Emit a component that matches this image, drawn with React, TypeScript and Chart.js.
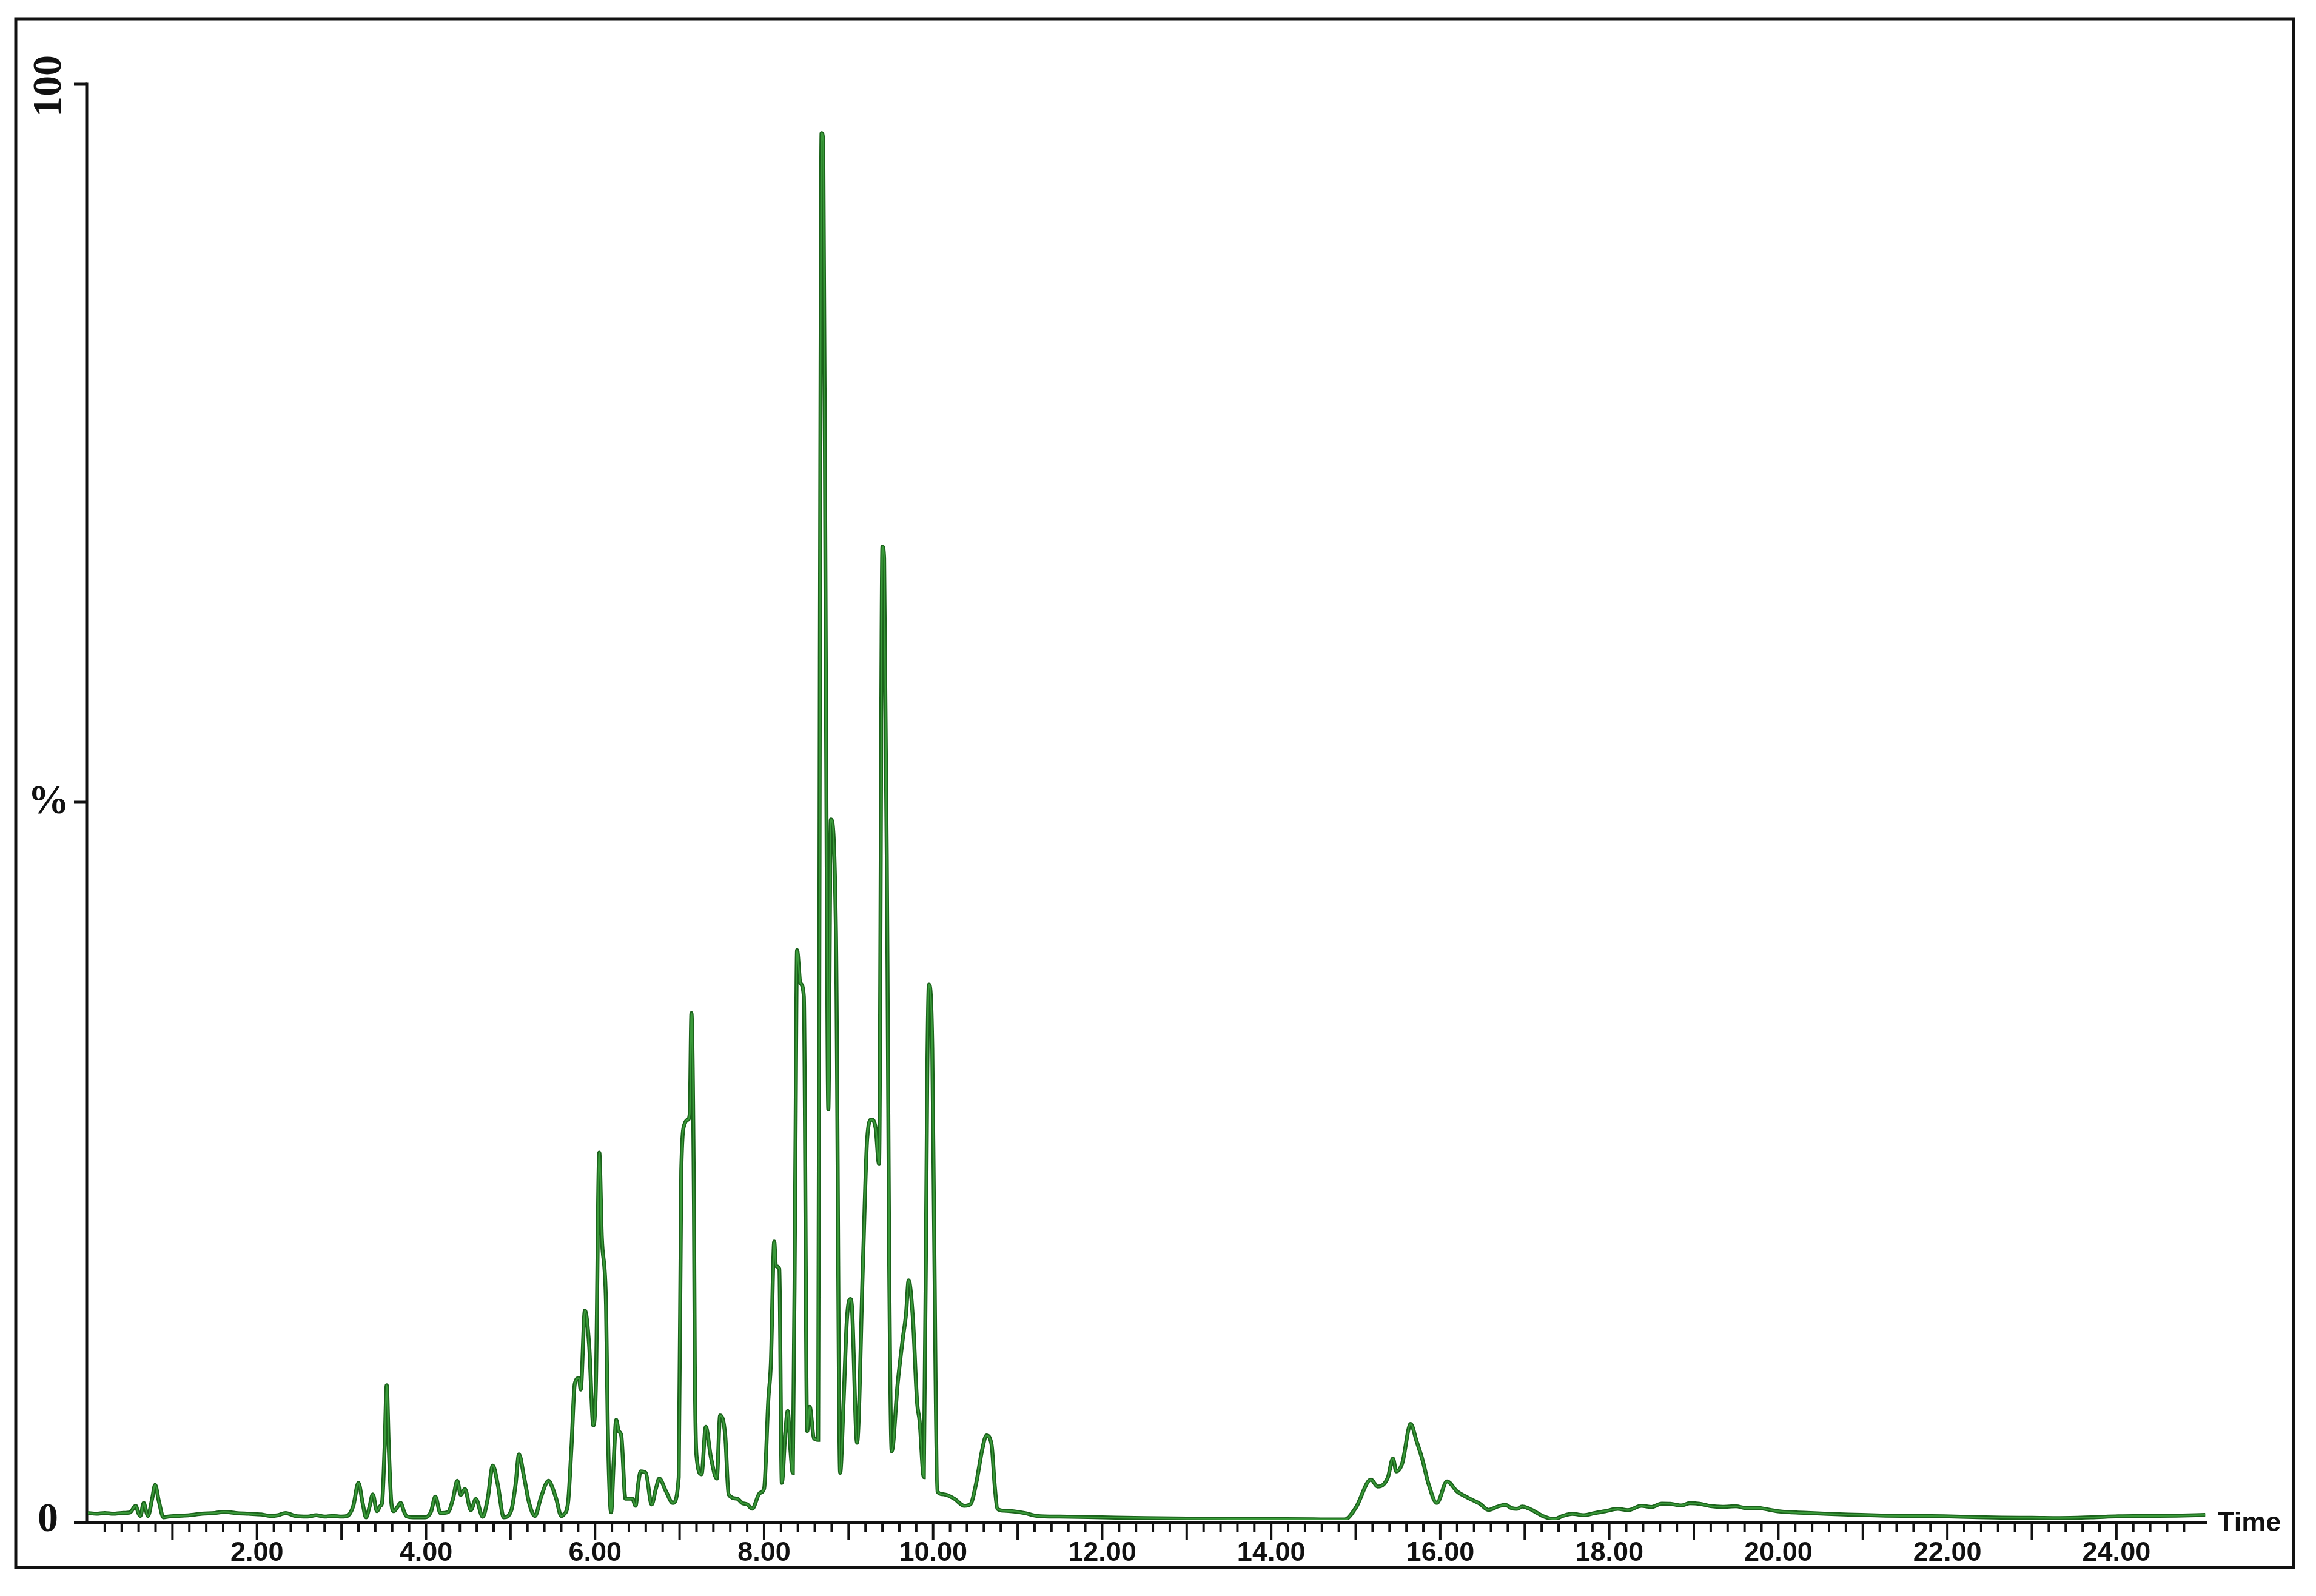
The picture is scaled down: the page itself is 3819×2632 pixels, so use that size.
import React, { useEffect, useRef } from "react";
import { Chart, registerables } from "chart.js";

Chart.register(...registerables);

// Retention time (min) and relative intensity (%)
const retentionTimes = [
  0.0, 0.1, 0.2, 0.3, 0.4, 0.5, 0.565, 0.6, 0.62, 0.66, 0.69, 0.71, 0.76, 0.795, 0.84, 0.894,
  0.95, 1.05, 1.2, 1.35, 1.5, 1.61, 1.75, 1.9, 2.05, 2.16, 2.25, 2.34, 2.45, 2.6, 2.7, 2.8, 2.9,
  3.0, 3.07, 3.14, 3.2, 3.25, 3.29, 3.33, 3.37, 3.42, 3.46, 3.48, 3.51, 3.535, 3.56, 3.59, 3.62,
  3.66, 3.7, 3.74, 3.77, 3.85, 3.99, 4.06, 4.11, 4.17, 4.26, 4.32, 4.37, 4.41, 4.46, 4.53, 4.59,
  4.67, 4.73, 4.79, 4.85, 4.92, 5.01, 5.06, 5.1, 5.16, 5.22, 5.29, 5.36, 5.45, 5.5, 5.54, 5.6,
  5.63, 5.68, 5.72, 5.76, 5.81, 5.83, 5.88, 5.93, 5.98, 6.01, 6.05, 6.08, 6.13, 6.15, 6.19, 6.22,
  6.25, 6.28, 6.31, 6.36, 6.44, 6.48, 6.51, 6.54, 6.6, 6.67, 6.72, 6.76, 6.84, 6.92, 6.99, 7.02,
  7.06, 7.1, 7.12, 7.14, 7.17, 7.18, 7.2, 7.26, 7.31, 7.37, 7.44, 7.48, 7.54, 7.58, 7.68, 7.74,
  7.8, 7.86, 7.95, 8.0, 8.05, 8.08, 8.12, 8.14, 8.18, 8.21, 8.25, 8.28, 8.31, 8.34, 8.37, 8.39,
  8.43, 8.47, 8.51, 8.54, 8.59, 8.64, 8.66, 8.68, 8.7, 8.73, 8.76, 8.79, 8.85, 8.9, 8.94, 8.98,
  9.02, 9.04, 9.1, 9.17, 9.22, 9.27, 9.32, 9.36, 9.4, 9.42, 9.46, 9.48, 9.51, 9.58, 9.64, 9.68,
  9.71, 9.76, 9.81, 9.84, 9.89, 9.93, 9.95, 9.99, 10.01, 10.05, 10.13, 10.25, 10.37, 10.44,
  10.51, 10.58, 10.63, 10.69, 10.73, 10.76, 10.84, 11.08, 11.23, 11.5, 12.0, 12.5, 13.0, 13.5,
  14.0, 14.5, 14.87, 15.0, 15.18, 15.26, 15.38, 15.44, 15.48, 15.55, 15.65, 15.72, 15.79, 15.86,
  15.96, 16.08, 16.2, 16.33, 16.47, 16.57, 16.68, 16.77, 16.84, 16.91, 16.97, 17.04, 17.12, 17.21,
  17.35, 17.45, 17.56, 17.7, 17.83, 17.95, 18.1, 18.22, 18.38, 18.5, 18.62, 18.72, 18.85, 18.95,
  19.07, 19.2, 19.34, 19.5, 19.62, 19.75, 19.9, 20.03, 20.3, 20.58, 20.9, 21.27, 21.6, 21.96,
  22.3, 22.64, 23.0, 23.33, 23.7, 24.02, 24.35, 24.71, 25.05,
];

const intensities = [
  0.5, 0.45, 0.5, 0.45, 0.5, 0.55, 1.0, 0.45, 0.3, 1.2, 0.6, 0.3, 1.5, 2.46, 1.3, 0.2,
  0.25, 0.3, 0.35, 0.45, 0.5, 0.58, 0.5, 0.45, 0.4, 0.3, 0.35, 0.5, 0.3, 0.25, 0.35, 0.25, 0.3,
  0.25, 0.3, 1.0, 2.6, 1.2, 0.2, 0.9, 1.8, 0.63, 1.0, 1.2, 5.0, 9.4, 5.0, 1.2, 0.63,
  0.9, 1.2, 0.6, 0.28, 0.2, 0.2, 0.6, 1.65, 0.5, 0.56, 1.5, 2.75, 1.76, 2.18, 0.7, 1.48,
  0.24, 1.5, 3.8, 2.46, 0.2, 0.7, 2.5, 4.58, 3.0, 1.2, 0.3, 1.6, 2.75, 2.2, 1.5, 0.3,
  0.4, 1.2, 5.0, 9.5, 9.9, 9.1, 14.6, 12.2, 6.6, 9.5, 25.6, 19.7, 15.0, 6.7, 0.55, 4.0,
  7.0, 6.2, 5.9, 1.5, 1.5, 1.0, 2.5, 3.4, 3.3, 1.1, 2.2, 2.9, 2.0, 1.2, 3.0, 24.3,
  27.6, 27.9, 28.3, 35.3, 22.0, 10.9, 4.5, 3.2, 6.5, 4.4, 2.9, 7.3, 5.9, 1.8, 1.5, 1.2,
  1.1, 0.8, 1.9, 2.2, 8.4, 10.9, 19.4, 17.7, 17.5, 2.6, 6.0, 7.6, 5.0, 3.3, 25.0, 39.7,
  37.4, 36.5, 6.2, 7.9, 5.7, 5.6, 60.0, 96.6, 96.0, 60.0, 28.6, 48.8, 41.0, 3.3, 8.2, 14.0,
  15.4, 14.8, 5.4, 18.0, 26.6, 27.9, 27.3, 24.8, 67.8, 67.0, 38.4, 18.0, 4.8, 9.5, 12.6, 14.4,
  16.7, 14.1, 8.2, 6.9, 3.0, 31.0, 37.3, 32.8, 21.3, 2.0, 1.8, 1.5, 1.0, 1.1,
  2.6, 4.9, 5.9, 5.3, 2.3, 0.8, 0.66, 0.5, 0.3, 0.25, 0.2, 0.15, 0.12, 0.1,
  0.08, 0.06, 0.05, 0.86, 2.83, 2.34, 2.97, 4.3, 3.4, 3.96, 6.7, 5.5, 4.2, 2.55,
  1.2, 2.7, 2.0, 1.56, 1.14, 0.72, 0.95, 1.07, 0.85, 0.79, 0.95, 0.83, 0.6, 0.3,
  0.08, 0.3, 0.44, 0.35, 0.5, 0.62, 0.79, 0.7, 1.0, 0.92, 1.15, 1.14, 1.02, 1.18,
  1.14, 0.98, 0.93, 0.97, 0.84, 0.86, 0.72, 0.6, 0.52, 0.44, 0.38, 0.32, 0.3, 0.27,
  0.22, 0.18, 0.17, 0.15, 0.2, 0.27, 0.3, 0.32, 0.37,
];

const xTickLabels = ["2.00", "4.00", "6.00", "8.00", "10.00", "12.00", "14.00", "16.00", "18.00", "20.00", "22.00", "24.00"];
const xTickValues = [2, 4, 6, 8, 10, 12, 14, 16, 18, 20, 22, 24];
const yTickLabels = ["0", "%", "100"];
const yTickValues = [0, 50, 100];
const xAxisTitle = "Time";

const W = 3819;
const H = 2632;

export default function App() {
  const ref = useRef<HTMLCanvasElement | null>(null);

  useEffect(() => {
    if (!ref.current) return;
    const points = retentionTimes.map((t, i) => ({ x: t, y: intensities[i] }));

    const framePlugin = {
      id: "chromFrame",
      beforeDatasetsDraw(chart: any) {
        const ctx = chart.ctx as CanvasRenderingContext2D;
        const xs = chart.scales.x;
        const ys = chart.scales.y;
        const y0 = ys.getPixelForValue(0);
        const axisY = y0 + 4;
        const axisX = xs.getPixelForValue(0) - 2;
        const xEnd = xs.getPixelForValue(xs.max);
        ctx.save();
        ctx.strokeStyle = "#111111";
        ctx.lineCap = "butt";
        // outer frame
        ctx.lineWidth = 5;
        ctx.strokeRect(26, 31, 3782 - 26, 2585 - 31);
        // x axis line
        ctx.beginPath();
        ctx.moveTo(122, axisY);
        ctx.lineTo(xEnd, axisY);
        ctx.stroke();
        // y axis line
        const yTop = ys.getPixelForValue(100);
        ctx.beginPath();
        ctx.moveTo(axisX, yTop - 2.5);
        ctx.lineTo(axisX, axisY);
        ctx.stroke();
        // y ticks
        yTickValues.forEach((v) => {
          if (v === 0) return;
          const py = ys.getPixelForValue(v);
          ctx.beginPath();
          ctx.moveTo(122, py);
          ctx.lineTo(axisX, py);
          ctx.stroke();
        });
        // x ticks
        ctx.lineWidth = 4;
        for (let k = 1; k * 0.2 <= 24.9; k++) {
          const t = k * 0.2;
          const px = xs.getPixelForValue(t);
          const len = k % 5 === 0 ? 26 : 13;
          ctx.beginPath();
          ctx.moveTo(px, axisY);
          ctx.lineTo(px, axisY + 2.5 + len);
          ctx.stroke();
        }
        // x labels
        ctx.fillStyle = "#111111";
        ctx.font = "bold 45px 'Liberation Sans', Arial, sans-serif";
        ctx.textAlign = "center";
        ctx.textBaseline = "middle";
        xTickValues.forEach((v, i) => {
          ctx.fillText(xTickLabels[i], xs.getPixelForValue(v), 2562);
        });
        ctx.textAlign = "left";
        ctx.fillText(xAxisTitle, 3657, 2513);
        // y labels (serif bold)
        ctx.font = "bold 68px 'Liberation Serif', 'Times New Roman', serif";
        ctx.textAlign = "center";
        yTickValues.forEach((v, i) => {
          const py = ys.getPixelForValue(v);
          if (v === 100) {
            ctx.save();
            ctx.translate(80, py + 3);
            ctx.rotate(-Math.PI / 2);
            ctx.fillText(yTickLabels[i], 0, 2);
            ctx.restore();
          } else if (v === 0) {
            ctx.fillText(yTickLabels[i], 79, py);
          } else {
            ctx.fillText(yTickLabels[i], 80, py);
          }
        });
        ctx.restore();
      },
    };

    const chart = new Chart(ref.current, {
      type: "line",
      data: {
        datasets: [
          {
            data: points,
            borderColor: "#1b631b",
            borderWidth: 6.5,
            pointRadius: 0,
            cubicInterpolationMode: "monotone",
            fill: false,
            order: 2,
          },
          {
            data: points,
            borderColor: "#3a9a3a",
            borderWidth: 2.5,
            pointRadius: 0,
            cubicInterpolationMode: "monotone",
            fill: false,
            order: 1,
          },
        ],
      },
      options: {
        responsive: false,
        animation: false,
        devicePixelRatio: 1,
        layout: { padding: { left: 145, top: 139, right: 180, bottom: 125 } },
        scales: {
          x: { type: "linear", min: 0, max: 25.07, display: false },
          y: { type: "linear", min: 0, max: 100, display: false },
        },
        plugins: {
          legend: { display: false },
          tooltip: { enabled: false },
        },
      },
      plugins: [framePlugin],
    });
    return () => chart.destroy();
  }, []);

  return (
    <div style={{ position: "fixed", left: 0, top: 0, width: W, height: H, background: "#ffffff" }}>
      <canvas ref={ref} width={W} height={H} style={{ width: W, height: H, display: "block" }} />
    </div>
  );
}
